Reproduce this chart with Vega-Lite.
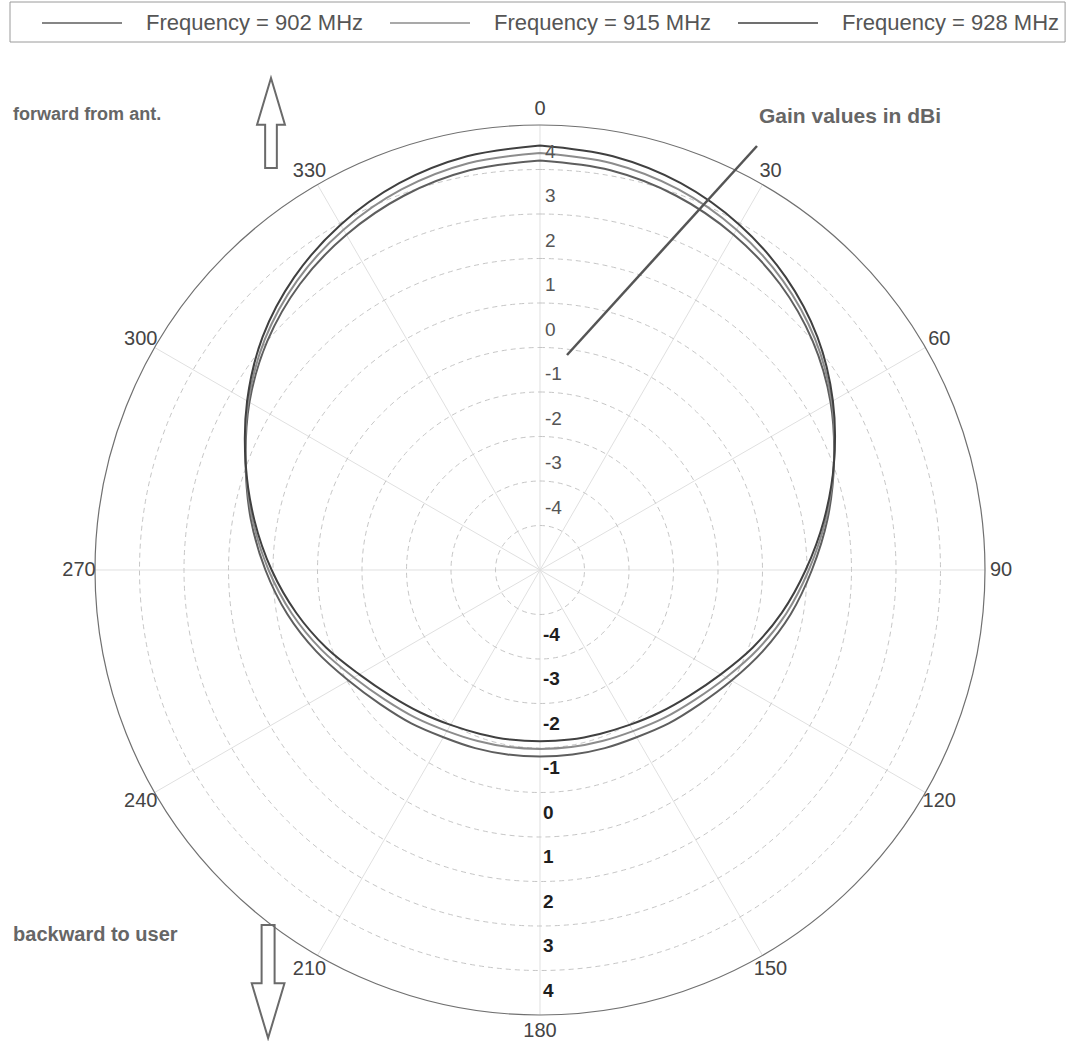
{
  "$schema": "https://vega.github.io/schema/vega-lite/v6.json",
  "width": 1067,
  "height": 1041,
  "padding": 0,
  "autosize": {"type": "none"},
  "background": "white",
  "config": {"view": {"stroke": null}, "font": "Liberation Sans", "text": {"font": "Liberation Sans"}},
  "datasets": {
    "pattern": [
      {"frequency": "Frequency = 902 MHz", "angle": 0, "gain": 3.20}, {"frequency": "Frequency = 902 MHz", "angle": 10, "gain": 3.12}, {"frequency": "Frequency = 902 MHz", "angle": 20, "gain": 2.95}, {"frequency": "Frequency = 902 MHz", "angle": 30, "gain": 2.70}, {"frequency": "Frequency = 902 MHz", "angle": 40, "gain": 2.39}, {"frequency": "Frequency = 902 MHz", "angle": 50, "gain": 2.00}, {"frequency": "Frequency = 902 MHz", "angle": 60, "gain": 1.54}, {"frequency": "Frequency = 902 MHz", "angle": 70, "gain": 1.03}, {"frequency": "Frequency = 902 MHz", "angle": 80, "gain": 0.56}, {"frequency": "Frequency = 902 MHz", "angle": 90, "gain": 0.11}, {"frequency": "Frequency = 902 MHz", "angle": 100, "gain": -0.28}, {"frequency": "Frequency = 902 MHz", "angle": 110, "gain": -0.67}, {"frequency": "Frequency = 902 MHz", "angle": 120, "gain": -1.03}, {"frequency": "Frequency = 902 MHz", "angle": 130, "gain": -1.31}, {"frequency": "Frequency = 902 MHz", "angle": 140, "gain": -1.50}, {"frequency": "Frequency = 902 MHz", "angle": 150, "gain": -1.66}, {"frequency": "Frequency = 902 MHz", "angle": 160, "gain": -1.74}, {"frequency": "Frequency = 902 MHz", "angle": 170, "gain": -1.79}, {"frequency": "Frequency = 902 MHz", "angle": 180, "gain": -1.81}, {"frequency": "Frequency = 902 MHz", "angle": 190, "gain": -1.79}, {"frequency": "Frequency = 902 MHz", "angle": 200, "gain": -1.74}, {"frequency": "Frequency = 902 MHz", "angle": 210, "gain": -1.66}, {"frequency": "Frequency = 902 MHz", "angle": 220, "gain": -1.50}, {"frequency": "Frequency = 902 MHz", "angle": 230, "gain": -1.31}, {"frequency": "Frequency = 902 MHz", "angle": 240, "gain": -1.03}, {"frequency": "Frequency = 902 MHz", "angle": 250, "gain": -0.65}, {"frequency": "Frequency = 902 MHz", "angle": 260, "gain": -0.24}, {"frequency": "Frequency = 902 MHz", "angle": 270, "gain": 0.17}, {"frequency": "Frequency = 902 MHz", "angle": 280, "gain": 0.60}, {"frequency": "Frequency = 902 MHz", "angle": 290, "gain": 1.04}, {"frequency": "Frequency = 902 MHz", "angle": 300, "gain": 1.54}, {"frequency": "Frequency = 902 MHz", "angle": 310, "gain": 2.00}, {"frequency": "Frequency = 902 MHz", "angle": 320, "gain": 2.39}, {"frequency": "Frequency = 902 MHz", "angle": 330, "gain": 2.70}, {"frequency": "Frequency = 902 MHz", "angle": 340, "gain": 2.95}, {"frequency": "Frequency = 902 MHz", "angle": 350, "gain": 3.12}, {"frequency": "Frequency = 902 MHz", "angle": 360, "gain": 3.20},
      {"frequency": "Frequency = 915 MHz", "angle": 0, "gain": 3.37}, {"frequency": "Frequency = 915 MHz", "angle": 10, "gain": 3.28}, {"frequency": "Frequency = 915 MHz", "angle": 20, "gain": 3.10}, {"frequency": "Frequency = 915 MHz", "angle": 30, "gain": 2.83}, {"frequency": "Frequency = 915 MHz", "angle": 40, "gain": 2.49}, {"frequency": "Frequency = 915 MHz", "angle": 50, "gain": 2.07}, {"frequency": "Frequency = 915 MHz", "angle": 60, "gain": 1.57}, {"frequency": "Frequency = 915 MHz", "angle": 70, "gain": 1.03}, {"frequency": "Frequency = 915 MHz", "angle": 80, "gain": 0.52}, {"frequency": "Frequency = 915 MHz", "angle": 90, "gain": 0.04}, {"frequency": "Frequency = 915 MHz", "angle": 100, "gain": -0.38}, {"frequency": "Frequency = 915 MHz", "angle": 110, "gain": -0.79}, {"frequency": "Frequency = 915 MHz", "angle": 120, "gain": -1.17}, {"frequency": "Frequency = 915 MHz", "angle": 130, "gain": -1.46}, {"frequency": "Frequency = 915 MHz", "angle": 140, "gain": -1.66}, {"frequency": "Frequency = 915 MHz", "angle": 150, "gain": -1.82}, {"frequency": "Frequency = 915 MHz", "angle": 160, "gain": -1.91}, {"frequency": "Frequency = 915 MHz", "angle": 170, "gain": -1.96}, {"frequency": "Frequency = 915 MHz", "angle": 180, "gain": -1.98}, {"frequency": "Frequency = 915 MHz", "angle": 190, "gain": -1.96}, {"frequency": "Frequency = 915 MHz", "angle": 200, "gain": -1.91}, {"frequency": "Frequency = 915 MHz", "angle": 210, "gain": -1.82}, {"frequency": "Frequency = 915 MHz", "angle": 220, "gain": -1.66}, {"frequency": "Frequency = 915 MHz", "angle": 230, "gain": -1.46}, {"frequency": "Frequency = 915 MHz", "angle": 240, "gain": -1.17}, {"frequency": "Frequency = 915 MHz", "angle": 250, "gain": -0.77}, {"frequency": "Frequency = 915 MHz", "angle": 260, "gain": -0.34}, {"frequency": "Frequency = 915 MHz", "angle": 270, "gain": 0.10}, {"frequency": "Frequency = 915 MHz", "angle": 280, "gain": 0.56}, {"frequency": "Frequency = 915 MHz", "angle": 290, "gain": 1.04}, {"frequency": "Frequency = 915 MHz", "angle": 300, "gain": 1.57}, {"frequency": "Frequency = 915 MHz", "angle": 310, "gain": 2.07}, {"frequency": "Frequency = 915 MHz", "angle": 320, "gain": 2.49}, {"frequency": "Frequency = 915 MHz", "angle": 330, "gain": 2.83}, {"frequency": "Frequency = 915 MHz", "angle": 340, "gain": 3.10}, {"frequency": "Frequency = 915 MHz", "angle": 350, "gain": 3.28}, {"frequency": "Frequency = 915 MHz", "angle": 360, "gain": 3.37},
      {"frequency": "Frequency = 928 MHz", "angle": 0, "gain": 3.54}, {"frequency": "Frequency = 928 MHz", "angle": 10, "gain": 3.44}, {"frequency": "Frequency = 928 MHz", "angle": 20, "gain": 3.25}, {"frequency": "Frequency = 928 MHz", "angle": 30, "gain": 2.96}, {"frequency": "Frequency = 928 MHz", "angle": 40, "gain": 2.59}, {"frequency": "Frequency = 928 MHz", "angle": 50, "gain": 2.14}, {"frequency": "Frequency = 928 MHz", "angle": 60, "gain": 1.60}, {"frequency": "Frequency = 928 MHz", "angle": 70, "gain": 1.03}, {"frequency": "Frequency = 928 MHz", "angle": 80, "gain": 0.48}, {"frequency": "Frequency = 928 MHz", "angle": 90, "gain": -0.03}, {"frequency": "Frequency = 928 MHz", "angle": 100, "gain": -0.48}, {"frequency": "Frequency = 928 MHz", "angle": 110, "gain": -0.91}, {"frequency": "Frequency = 928 MHz", "angle": 120, "gain": -1.31}, {"frequency": "Frequency = 928 MHz", "angle": 130, "gain": -1.61}, {"frequency": "Frequency = 928 MHz", "angle": 140, "gain": -1.82}, {"frequency": "Frequency = 928 MHz", "angle": 150, "gain": -1.98}, {"frequency": "Frequency = 928 MHz", "angle": 160, "gain": -2.08}, {"frequency": "Frequency = 928 MHz", "angle": 170, "gain": -2.13}, {"frequency": "Frequency = 928 MHz", "angle": 180, "gain": -2.15}, {"frequency": "Frequency = 928 MHz", "angle": 190, "gain": -2.13}, {"frequency": "Frequency = 928 MHz", "angle": 200, "gain": -2.08}, {"frequency": "Frequency = 928 MHz", "angle": 210, "gain": -1.98}, {"frequency": "Frequency = 928 MHz", "angle": 220, "gain": -1.82}, {"frequency": "Frequency = 928 MHz", "angle": 230, "gain": -1.61}, {"frequency": "Frequency = 928 MHz", "angle": 240, "gain": -1.31}, {"frequency": "Frequency = 928 MHz", "angle": 250, "gain": -0.89}, {"frequency": "Frequency = 928 MHz", "angle": 260, "gain": -0.44}, {"frequency": "Frequency = 928 MHz", "angle": 270, "gain": 0.03}, {"frequency": "Frequency = 928 MHz", "angle": 280, "gain": 0.52}, {"frequency": "Frequency = 928 MHz", "angle": 290, "gain": 1.04}, {"frequency": "Frequency = 928 MHz", "angle": 300, "gain": 1.60}, {"frequency": "Frequency = 928 MHz", "angle": 310, "gain": 2.14}, {"frequency": "Frequency = 928 MHz", "angle": 320, "gain": 2.59}, {"frequency": "Frequency = 928 MHz", "angle": 330, "gain": 2.96}, {"frequency": "Frequency = 928 MHz", "angle": 340, "gain": 3.25}, {"frequency": "Frequency = 928 MHz", "angle": 350, "gain": 3.44}, {"frequency": "Frequency = 928 MHz", "angle": 360, "gain": 3.54}
    ],
    "spokes": [{"angle": 0}, {"angle": 30}, {"angle": 60}, {"angle": 90}, {"angle": 120}, {"angle": 150}],
    "rings": [{"gain": -5}, {"gain": -4}, {"gain": -3}, {"gain": -2}, {"gain": -1}, {"gain": 0}, {"gain": 1}, {"gain": 2}, {"gain": 3}],
    "outer": [{"gain": 4}],
    "angles": [{"angle": 0}, {"angle": 30}, {"angle": 60}, {"angle": 90}, {"angle": 120}, {"angle": 150}, {"angle": 180}, {"angle": 210}, {"angle": 240}, {"angle": 270}, {"angle": 300}, {"angle": 330}],
    "gainTicks": [{"value": -4, "label": "-4"}, {"value": -3, "label": "-3"}, {"value": -2, "label": "-2"}, {"value": -1, "label": "-1"}, {"value": 0, "label": "0"}, {"value": 1, "label": "1"}, {"value": 2, "label": "2"}, {"value": 3, "label": "3"}, {"value": 4, "label": "4"}]
  },
  "layer": [
    {
      "data": {"name": "spokes"},
      "transform": [
        {"calculate": "-10*sin(datum.angle*PI/180)", "as": "xa"},
        {"calculate": "-10*cos(datum.angle*PI/180)", "as": "ya"},
        {"calculate": "10*sin(datum.angle*PI/180)", "as": "xb"},
        {"calculate": "10*cos(datum.angle*PI/180)", "as": "yb"}
      ],
      "mark": {"type": "rule", "stroke": "#e0e0e0", "strokeWidth": 1},
      "encoding": {
        "x": {"field": "xa", "type": "quantitative", "scale": {"domain": [-12.1348, 11.8427], "nice": false, "zero": false}, "axis": null},
        "y": {"field": "ya", "type": "quantitative", "scale": {"domain": [-10.5843, 12.809], "nice": false, "zero": false}, "axis": null},
        "x2": {"field": "xb"},
        "y2": {"field": "yb"}
      }
    },
    {
      "data": {"name": "rings"},
      "mark": {"type": "arc", "theta": 0, "theta2": 6.2832, "filled": false, "stroke": "#c6c6c6", "strokeWidth": 1, "strokeDash": [5, 4]},
      "encoding": {
        "x": {"datum": 0, "type": "quantitative", "scale": {"domain": [-12.1348, 11.8427], "nice": false, "zero": false}, "axis": null},
        "y": {"datum": 0, "type": "quantitative", "scale": {"domain": [-10.5843, 12.809], "nice": false, "zero": false}, "axis": null},
        "radius": {"field": "gain", "type": "quantitative", "stack": null, "scale": {"type": "linear", "domain": [-6, 4], "range": [0, 445], "zero": false, "nice": false}, "legend": null},
        "radius2": {"datum": -6}
      }
    },
    {
      "data": {"name": "outer"},
      "mark": {"type": "arc", "theta": 0, "theta2": 6.2832, "filled": false, "stroke": "#707070", "strokeWidth": 1.2},
      "encoding": {
        "x": {"datum": 0, "type": "quantitative", "scale": {"domain": [-12.1348, 11.8427], "nice": false, "zero": false}, "axis": null},
        "y": {"datum": 0, "type": "quantitative", "scale": {"domain": [-10.5843, 12.809], "nice": false, "zero": false}, "axis": null},
        "radius": {"field": "gain", "type": "quantitative", "stack": null, "scale": {"type": "linear", "domain": [-6, 4], "range": [0, 445], "zero": false, "nice": false}, "legend": null},
        "radius2": {"datum": -6}
      }
    },
    {
      "data": {"values": [{}]},
      "mark": {"type": "rect", "fill": null, "filled": false, "stroke": "#9a9a9a", "strokeWidth": 1},
      "encoding": {
        "x": {"datum": -11.91, "type": "quantitative", "scale": {"domain": [-12.1348, 11.8427], "nice": false, "zero": false}, "axis": null},
        "y": {"datum": 12.764, "type": "quantitative", "scale": {"domain": [-10.5843, 12.809], "nice": false, "zero": false}, "axis": null},
        "x2": {"datum": 11.80},
        "y2": {"datum": 11.865}
      }
    },
    {
      "data": {"name": "pattern"},
      "transform": [
        {"calculate": "(datum.gain+6)*sin(datum.angle*PI/180)", "as": "px"},
        {"calculate": "(datum.gain+6)*cos(datum.angle*PI/180)", "as": "py"}
      ],
      "mark": {"type": "line", "strokeWidth": 2, "interpolate": "catmull-rom"},
      "encoding": {
        "x": {"field": "px", "type": "quantitative", "scale": {"domain": [-12.1348, 11.8427], "nice": false, "zero": false}, "axis": null},
        "y": {"field": "py", "type": "quantitative", "scale": {"domain": [-10.5843, 12.809], "nice": false, "zero": false}, "axis": null},
        "order": {"field": "angle", "type": "quantitative"},
        "color": {
          "field": "frequency", "type": "nominal",
          "scale": {"domain": ["Frequency = 902 MHz", "Frequency = 915 MHz", "Frequency = 928 MHz"], "range": ["#5e5e5e", "#8c8c8c", "#404040"]},
          "legend": {
            "orient": "none", "legendX": 41, "legendY": -18, "direction": "horizontal", "title": null,
            "symbolType": "stroke", "symbolSize": 6400, "symbolStrokeWidth": 1.5,
            "labelFont": "Liberation Sans", "labelFontSize": 22, "labelColor": "#555555", "labelOffset": 23, "labelLimit": 500,
            "columnPadding": 23, "padding": 0, "strokeColor": null, "fillColor": null
          }
        }
      }
    },
    {
      "data": {"name": "angles"},
      "transform": [
        {"calculate": "10.36*sin(datum.angle*PI/180)", "as": "tx"},
        {"calculate": "10.36*cos(datum.angle*PI/180)", "as": "ty"}
      ],
      "mark": {"type": "text", "fontSize": 20, "color": "#444444", "align": "center", "baseline": "middle"},
      "encoding": {
        "x": {"field": "tx", "type": "quantitative", "scale": {"domain": [-12.1348, 11.8427], "nice": false, "zero": false}, "axis": null},
        "y": {"field": "ty", "type": "quantitative", "scale": {"domain": [-10.5843, 12.809], "nice": false, "zero": false}, "axis": null},
        "text": {"field": "angle", "type": "quantitative"}
      }
    },
    {
      "data": {"name": "gainTicks"},
      "transform": [{"calculate": "datum.value + 5.4", "as": "ty"}],
      "mark": {"type": "text", "fontSize": 19, "color": "#555555", "align": "left", "baseline": "middle", "dx": 5},
      "encoding": {
        "x": {"datum": 0, "type": "quantitative", "scale": {"domain": [-12.1348, 11.8427], "nice": false, "zero": false}, "axis": null},
        "y": {"field": "ty", "type": "quantitative", "scale": {"domain": [-10.5843, 12.809], "nice": false, "zero": false}, "axis": null},
        "text": {"field": "label", "type": "nominal"}
      }
    },
    {
      "data": {"name": "gainTicks"},
      "transform": [{"calculate": "-(datum.value + 5.45)", "as": "ty"}],
      "mark": {"type": "text", "fontSize": 19, "fontWeight": "bold", "color": "#1e1e1e", "align": "left", "baseline": "middle", "dx": 3},
      "encoding": {
        "x": {"datum": 0, "type": "quantitative", "scale": {"domain": [-12.1348, 11.8427], "nice": false, "zero": false}, "axis": null},
        "y": {"field": "ty", "type": "quantitative", "scale": {"domain": [-10.5843, 12.809], "nice": false, "zero": false}, "axis": null},
        "text": {"field": "label", "type": "nominal"}
      }
    },
    {
      "data": {"values": [{}]},
      "mark": {"type": "rule", "stroke": "#555555", "strokeWidth": 2.5},
      "encoding": {
        "x": {"datum": 0.607, "type": "quantitative", "scale": {"domain": [-12.1348, 11.8427], "nice": false, "zero": false}, "axis": null},
        "y": {"datum": 4.831, "type": "quantitative", "scale": {"domain": [-10.5843, 12.809], "nice": false, "zero": false}, "axis": null},
        "x2": {"datum": 4.876},
        "y2": {"datum": 9.528}
      }
    },
    {
      "data": {"values": [{}]},
      "mark": {"type": "text", "text": "forward from ant.", "fontSize": 18, "fontWeight": "bold", "color": "#666666", "align": "left", "baseline": "middle"},
      "encoding": {
        "x": {"datum": -11.84, "type": "quantitative", "scale": {"domain": [-12.1348, 11.8427], "nice": false, "zero": false}, "axis": null},
        "y": {"datum": 10.22, "type": "quantitative", "scale": {"domain": [-10.5843, 12.809], "nice": false, "zero": false}, "axis": null}
      }
    },
    {
      "data": {"values": [{}]},
      "mark": {"type": "text", "text": "backward to user", "fontSize": 20, "fontWeight": "bold", "color": "#666666", "align": "left", "baseline": "middle"},
      "encoding": {
        "x": {"datum": -11.84, "type": "quantitative", "scale": {"domain": [-12.1348, 11.8427], "nice": false, "zero": false}, "axis": null},
        "y": {"datum": -8.2, "type": "quantitative", "scale": {"domain": [-10.5843, 12.809], "nice": false, "zero": false}, "axis": null}
      }
    },
    {
      "data": {"values": [{}]},
      "mark": {"type": "text", "text": "Gain values in dBi", "fontSize": 21, "fontWeight": "bold", "color": "#666666", "align": "left", "baseline": "middle"},
      "encoding": {
        "x": {"datum": 4.92, "type": "quantitative", "scale": {"domain": [-12.1348, 11.8427], "nice": false, "zero": false}, "axis": null},
        "y": {"datum": 10.18, "type": "quantitative", "scale": {"domain": [-10.5843, 12.809], "nice": false, "zero": false}, "axis": null}
      }
    },
    {
      "data": {"values": [{}]},
      "mark": {"type": "point", "shape": "M0,-1L0.31,0.04L0.13,0.04L0.13,1L-0.13,1L-0.13,0.04L-0.31,0.04Z", "size": 8100, "filled": false, "stroke": "#6a6a6a", "strokeWidth": 2, "opacity": 1},
      "encoding": {
        "x": {"datum": -6.045, "type": "quantitative", "scale": {"domain": [-12.1348, 11.8427], "nice": false, "zero": false}, "axis": null},
        "y": {"datum": 10.045, "type": "quantitative", "scale": {"domain": [-10.5843, 12.809], "nice": false, "zero": false}, "axis": null}
      }
    },
    {
      "data": {"values": [{}]},
      "mark": {"type": "point", "shape": "M-0.115,-1L0.115,-1L0.115,0.03L0.29,0.03L0,1L-0.29,0.03L-0.115,0.03Z", "size": 12769, "filled": false, "stroke": "#6a6a6a", "strokeWidth": 2, "opacity": 1},
      "encoding": {
        "x": {"datum": -6.11, "type": "quantitative", "scale": {"domain": [-12.1348, 11.8427], "nice": false, "zero": false}, "axis": null},
        "y": {"datum": -9.25, "type": "quantitative", "scale": {"domain": [-10.5843, 12.809], "nice": false, "zero": false}, "axis": null}
      }
    }
  ]
}
